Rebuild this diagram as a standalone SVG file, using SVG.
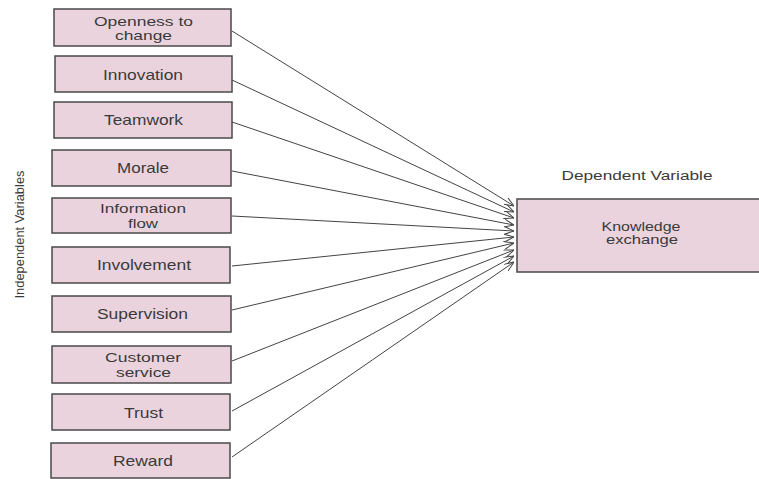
<svg xmlns="http://www.w3.org/2000/svg" width="759" height="479" viewBox="0 0 759 479">
<defs>
<style>
.box{fill:#ebd3de;stroke:#4a4a4a;stroke-width:1.5}
.t{font-family:"Liberation Sans",Arial,sans-serif;font-size:15px;fill:#3a3a3a;text-anchor:middle}
.t2{font-family:"Liberation Sans",Arial,sans-serif;font-size:13.5px;fill:#3a3a3a;text-anchor:middle}
.s{font-family:"Liberation Sans",Arial,sans-serif;font-size:12.5px;fill:#3a3a3a;text-anchor:middle}
.c{stroke:#444444;stroke-width:1;fill:none;marker-end:url(#ah)}
</style>
<marker id="ah" viewBox="0 0 10 8" refX="10" refY="4" markerWidth="10" markerHeight="8" markerUnits="userSpaceOnUse" orient="auto">
<path d="M0,0 L10,4 L0,8" fill="none" stroke="#444444" stroke-width="1"/>
</marker>
</defs>
<rect width="759" height="479" fill="#ffffff"/>
<text class="s" transform="translate(23.5,234.5) rotate(-90)" textLength="128" lengthAdjust="spacingAndGlyphs" style="font-size:13.5px">Independent Variables</text>

<g id="connectors">
<line class="c" x1="232" y1="31" x2="514" y2="206"/>
<line class="c" x1="232" y1="80" x2="514" y2="212"/>
<line class="c" x1="232" y1="122" x2="514" y2="218"/>
<line class="c" x1="232" y1="171" x2="514" y2="225"/>
<line class="c" x1="232" y1="216" x2="514" y2="231"/>
<line class="c" x1="232" y1="266" x2="514" y2="237"/>
<line class="c" x1="232" y1="310" x2="514" y2="243"/>
<line class="c" x1="232" y1="361" x2="514" y2="250"/>
<line class="c" x1="232" y1="411" x2="514" y2="256"/>
<line class="c" x1="232" y1="457" x2="514" y2="262"/>
</g>

<g id="n1"><rect class="box" x="54" y="9" width="177" height="37"/>
<text class="t2" x="143.5" y="26" textLength="99" lengthAdjust="spacingAndGlyphs">Openness to</text>
<text class="t2" x="143.5" y="40" textLength="57" lengthAdjust="spacingAndGlyphs">change</text></g>
<g id="n2"><rect class="box" x="55" y="56" width="177" height="36"/>
<text class="t" x="143" y="80" textLength="80" lengthAdjust="spacingAndGlyphs">Innovation</text></g>
<g id="n3"><rect class="box" x="54" y="102" width="178" height="36"/>
<text class="t" x="143.5" y="125" textLength="79" lengthAdjust="spacingAndGlyphs">Teamwork</text></g>
<g id="n4"><rect class="box" x="52" y="150" width="179" height="36"/>
<text class="t" x="143" y="172.5" textLength="52" lengthAdjust="spacingAndGlyphs">Morale</text></g>
<g id="n5"><rect class="box" x="52" y="198" width="179" height="35"/>
<text class="t2" x="143" y="213" textLength="86" lengthAdjust="spacingAndGlyphs">Information</text>
<text class="t2" x="143" y="227.5" textLength="30" lengthAdjust="spacingAndGlyphs">flow</text></g>
<g id="n6"><rect class="box" x="52" y="247" width="178" height="36"/>
<text class="t" x="144" y="270" textLength="94" lengthAdjust="spacingAndGlyphs">Involvement</text></g>
<g id="n7"><rect class="box" x="52" y="296" width="179" height="36"/>
<text class="t" x="142.5" y="319" textLength="91" lengthAdjust="spacingAndGlyphs">Supervision</text></g>
<g id="n8"><rect class="box" x="52" y="346" width="179" height="37"/>
<text class="t2" x="143" y="362" textLength="76" lengthAdjust="spacingAndGlyphs">Customer</text>
<text class="t2" x="143.5" y="376.5" textLength="55" lengthAdjust="spacingAndGlyphs">service</text></g>
<g id="n9"><rect class="box" x="52" y="394" width="178" height="36"/>
<text class="t" x="143.5" y="417.5" textLength="39" lengthAdjust="spacingAndGlyphs">Trust</text></g>
<g id="n10"><rect class="box" x="51" y="443" width="179" height="35"/>
<text class="t" x="143" y="465.5" textLength="60" lengthAdjust="spacingAndGlyphs">Reward</text></g>

<g id="dep"><text class="s" x="637" y="180" textLength="151" lengthAdjust="spacingAndGlyphs">Dependent Variable</text>
<rect class="box" x="517" y="199" width="260" height="73"/>
<text class="s" x="641" y="231" textLength="79" lengthAdjust="spacingAndGlyphs">Knowledge</text>
<text class="s" x="642" y="244" textLength="72" lengthAdjust="spacingAndGlyphs">exchange</text></g>
</svg>
